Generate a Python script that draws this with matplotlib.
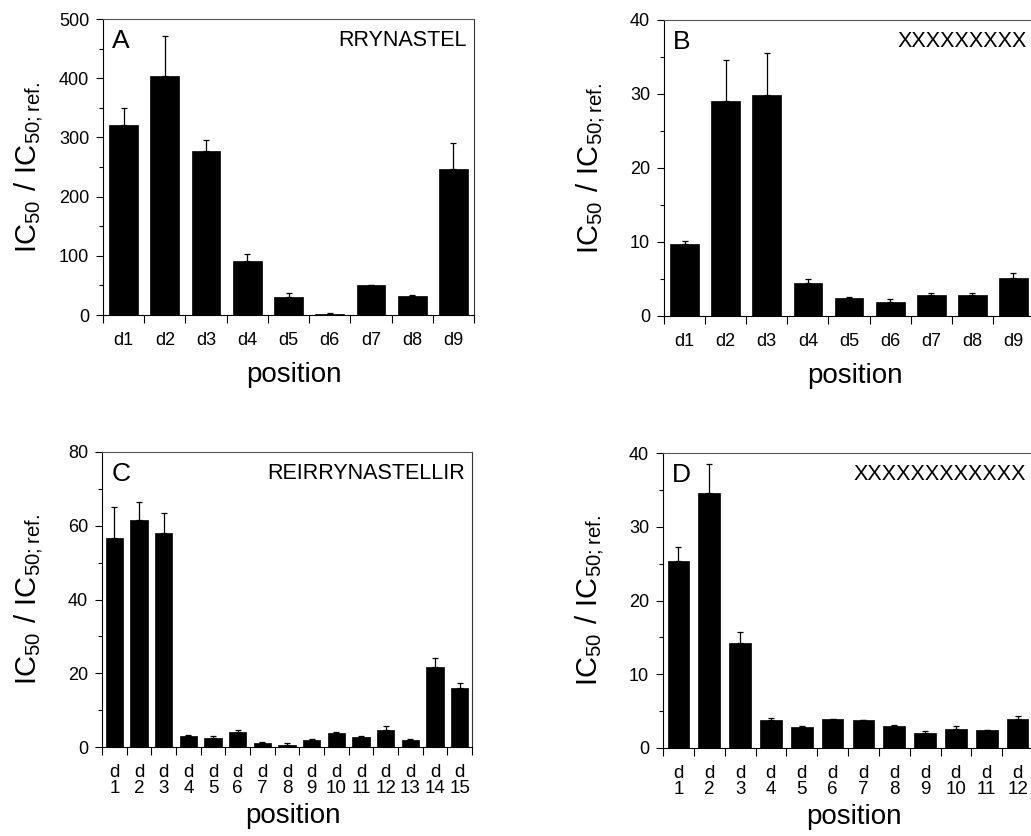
import numpy as np
import matplotlib
matplotlib.use("Agg")
import matplotlib.pyplot as plt
from matplotlib.ticker import MultipleLocator, FixedLocator

plt.rcParams['font.family'] = ['Liberation Sans', 'DejaVu Sans']

# Panel A: RRYNASTEL
labels_A = ['d1', 'd2', 'd3', 'd4', 'd5', 'd6', 'd7', 'd8', 'd9']
vals_A = [321, 404, 277, 92, 31, 2, 50, 32, 247]
err_A = [28, 68, 18, 11, 6, 1, 1, 1, 43]

# Panel B: XXXXXXXXX
labels_B = ['d1', 'd2', 'd3', 'd4', 'd5', 'd6', 'd7', 'd8', 'd9']
vals_B = [9.7, 29.0, 29.9, 4.5, 2.4, 1.9, 2.9, 2.9, 5.2]
err_B = [0.5, 5.6, 5.7, 0.5, 0.2, 0.45, 0.15, 0.15, 0.65]

# Panel C: REIRRYNASTELLIR
labels_C = ['d\n1', 'd\n2', 'd\n3', 'd\n4', 'd\n5', 'd\n6', 'd\n7', 'd\n8',
            'd\n9', 'd\n10', 'd\n11', 'd\n12', 'd\n13', 'd\n14', 'd\n15']
vals_C = [56.7, 61.5, 57.9, 2.9, 2.5, 4.0, 1.1, 0.6, 2.0, 3.8, 2.7, 4.7, 2.0, 21.7, 16.1]
err_C = [8.4, 4.9, 5.6, 0.3, 0.4, 0.7, 0.2, 0.6, 0.3, 0.2, 0.4, 0.9, 0.25, 2.5, 1.3]

# Panel D: XXXXXXXXXXXX
labels_D = ['d\n1', 'd\n2', 'd\n3', 'd\n4', 'd\n5', 'd\n6', 'd\n7', 'd\n8',
            'd\n9', 'd\n10', 'd\n11', 'd\n12']
vals_D = [25.4, 34.6, 14.2, 3.75, 2.85, 3.9, 3.75, 3.0, 2.1, 2.6, 2.5, 4.0]
err_D = [1.8, 3.9, 1.5, 0.3, 0.1, 0.1, 0.1, 0.1, 0.15, 0.35, 0.0, 0.3]

W, H = 1031, 836
fig = plt.figure(figsize=(W / 100, H / 100), dpi=100)


def px_axes(left, top, right, bottom):
    return fig.add_axes([left / W, 1 - bottom / H, (right - left) / W, (bottom - top) / H])


def panel(ax, labels, vals, errs, ymax, major, minor, letter, seq, tickpad, xsize):
    n = len(vals)
    x = np.arange(1, n + 1)
    lower = np.zeros(n)
    ax.bar(x, vals, width=0.7, color='black', edgecolor='black', linewidth=0.5,
           yerr=[lower, errs], error_kw=dict(ecolor='black', elinewidth=0.9,
                                            capsize=2.5, capthick=0.9))
    ax.set_xlim(0.5, n + 0.5)
    ax.set_ylim(0, ymax)
    ax.yaxis.set_major_locator(MultipleLocator(major))
    ax.yaxis.set_minor_locator(MultipleLocator(minor))
    ax.xaxis.set_major_locator(FixedLocator(x))
    ax.xaxis.set_minor_locator(FixedLocator(np.arange(n + 1) + 0.5))
    ax.tick_params(axis='y', which='major', direction='out', length=5, width=0.8,
                   labelsize=13, pad=5)
    ax.tick_params(axis='y', which='minor', direction='out', length=3, width=0.8)
    ax.tick_params(axis='x', which='major', length=0, pad=tickpad, labelsize=xsize)
    ax.tick_params(axis='x', which='minor', direction='out', length=6, width=0.8)
    ax.set_xticklabels(labels)
    plt.setp(ax.get_xticklabels(), fontsize=xsize, linespacing=0.98)
    for s in ax.spines.values():
        s.set_linewidth(0.8)
    ax.spines['top'].set_color('#555555')
    ax.spines['right'].set_color('#333333')
    ax.set_ylabel(r'$\mathregular{IC_{50}\ /\ IC_{50{;}ref.}}$', fontsize=21)
    ax.yaxis.set_label_coords(-0.155, 0.5)
    ax.set_xlabel('position', fontsize=20)
    ax.text(0.025, 0.965, letter, transform=ax.transAxes, fontsize=19,
            ha='left', va='top')
    ax.text(0.98, 0.963, seq, transform=ax.transAxes, fontsize=15.5,
            ha='right', va='top')


axA = px_axes(103, 19, 474, 315)
panel(axA, labels_A, vals_A, err_A, 500, 100, 50, 'A', 'RRYNASTEL', 12, 13)
axA.xaxis.set_label_coords(0.516, -0.16)

axB = px_axes(664, 20, 1034, 316)
panel(axB, labels_B, vals_B, err_B, 40, 10, 5, 'B', 'XXXXXXXXX', 12, 13)
axB.xaxis.set_label_coords(0.516, -0.16)

axC = px_axes(102, 452, 472, 747)
panel(axC, labels_C, vals_C, err_C, 80, 20, 10, 'C', 'REIRRYNASTELLIR', 12, 13.5)
axC.xaxis.set_label_coords(0.516, -0.19)

axD = px_axes(663, 453, 1033, 748)
panel(axD, labels_D, vals_D, err_D, 40, 10, 5, 'D', 'XXXXXXXXXXXX', 12, 13.5)
axD.xaxis.set_label_coords(0.516, -0.19)

fig.savefig('out.png', dpi=100)
